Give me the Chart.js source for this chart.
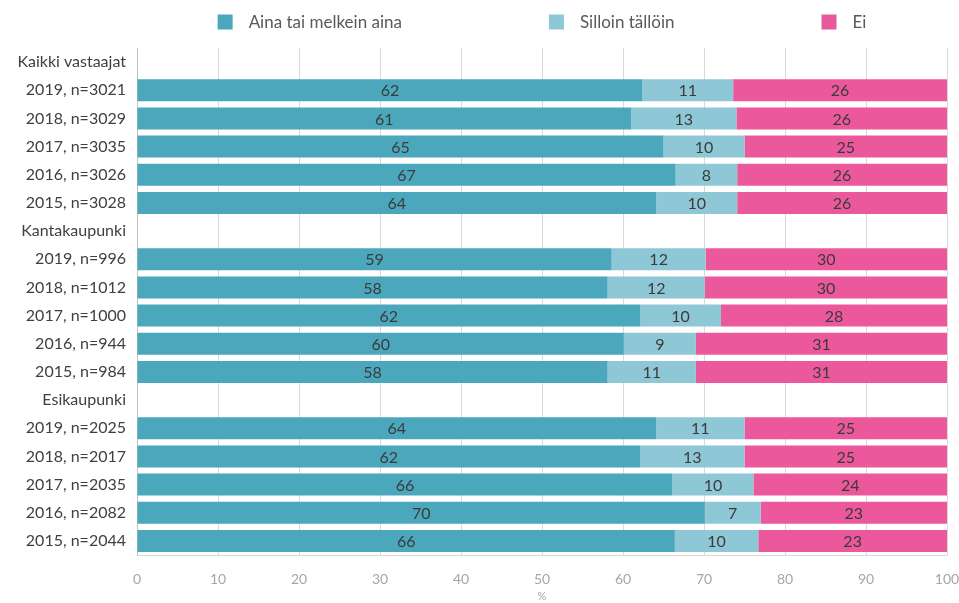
<!DOCTYPE html>
<html>
<head>
    <title>Aina tai melkein aina</title>
    <meta name="viewport" content="width=device-width, initial-scale=1.0">
    <script src="https://cdn.jsdelivr.net/npm/chart.js"></script>
</head>
<style>
    html, body {
        margin: 0;
        padding: 0;
        background: #fff;
    }
    #wrap {
        width: 959px;
        height: 603px;
    }
</style>
<body>
    <div id="wrap">
        <canvas id="answerChart"></canvas>
    </div>
    <script>
        const categories = [
            'Kaikki vastaajat',
            '2019, n=3021', '2018, n=3029', '2017, n=3035', '2016, n=3026', '2015, n=3028',
            'Kantakaupunki',
            '2019, n=996', '2018, n=1012', '2017, n=1000', '2016, n=944', '2015, n=984',
            'Esikaupunki',
            '2019, n=2025', '2018, n=2017', '2017, n=2035', '2016, n=2082', '2015, n=2044'
        ];
        const seriesNames = ['Aina tai melkein aina', 'Silloin tällöin', 'Ei'];
        const ainaValues = [null, 62.4, 61.0, 65.0, 66.5, 64.1, null, 58.6, 58.1, 62.1, 60.1, 58.1, null, 64.1, 62.1, 66.1, 70.1, 66.4];
        const silloinValues = [null, 11.2, 13.0, 10.0, 7.6, 10.0, null, 11.6, 12.0, 10.0, 8.9, 10.9, null, 10.9, 12.9, 10.0, 6.9, 10.3];
        const eiValues = [null, 26.4, 26.0, 25.0, 25.9, 25.9, null, 29.8, 29.9, 27.9, 31.0, 31.0, null, 25.0, 25.0, 23.9, 23.0, 23.3];
        const xTicks = [0, 10, 20, 30, 40, 50, 60, 70, 80, 90, 100];

        const colors = ['#4ba7bc', '#8ec7d5', '#eb599c'];
        const fontFamily = 'Lato, "Open Sans", sans-serif';

        // rounded value in the middle of every segment
        const valueLabels = {
            id: 'valueLabels',
            afterDatasetsDraw(chart) {
                const ctx = chart.ctx;
                ctx.save();
                ctx.font = '16px ' + fontFamily;
                ctx.fillStyle = '#3b3b3b';
                ctx.textAlign = 'center';
                ctx.textBaseline = 'middle';
                chart.data.datasets.forEach((ds, i) => {
                    const meta = chart.getDatasetMeta(i);
                    meta.data.forEach((bar, j) => {
                        const v = ds.data[j];
                        if (v === null || v === undefined) return;
                        ctx.fillText(Math.round(v), (bar.x + bar.base) / 2, bar.y + 1);
                    });
                });
                ctx.restore();
            }
        };

        // legend spread evenly above the plot
        const spreadLegend = {
            id: 'spreadLegend',
            afterDraw(chart) {
                const ctx = chart.ctx;
                const area = chart.chartArea;
                const box = 15, boxGap = 16, itemGap = 147;
                ctx.save();
                ctx.font = '17px ' + fontFamily;
                ctx.textBaseline = 'middle';
                const widths = chart.data.datasets.map(ds => box + boxGap + ctx.measureText(ds.label).width);
                const total = widths.reduce((a, b) => a + b, 0) + itemGap * (widths.length - 1);
                let x = (area.left + area.right) / 2 - total / 2;
                const y = 22;
                chart.data.datasets.forEach((ds, i) => {
                    ctx.fillStyle = ds.backgroundColor;
                    ctx.fillRect(x, y - box / 2, box, box);
                    ctx.fillStyle = '#595959';
                    ctx.fillText(ds.label, x + box + boxGap, y + 1);
                    x += widths[i] + itemGap;
                });
                ctx.restore();
            }
        };

        const ctx = document.getElementById('answerChart').getContext('2d');
        new Chart(ctx, {
            type: 'bar',
            data: {
                labels: categories,
                datasets: [
                    { label: seriesNames[0], data: ainaValues, backgroundColor: colors[0] },
                    { label: seriesNames[1], data: silloinValues, backgroundColor: colors[1] },
                    { label: seriesNames[2], data: eiValues, backgroundColor: colors[2] }
                ]
            },
            options: {
                indexAxis: 'y',
                responsive: true,
                maintainAspectRatio: false,
                animation: false,
                layout: {
                    padding: { top: 48, left: 10, right: 12, bottom: 0 }
                },
                datasets: {
                    bar: {
                        categoryPercentage: 1,
                        barPercentage: 0.78,
                        borderWidth: 0
                    }
                },
                scales: {
                    x: {
                        stacked: true,
                        min: 0,
                        max: 100,
                        afterBuildTicks: scale => {
                            scale.ticks = xTicks.map(v => ({ value: v }));
                        },
                        afterFit: scale => {
                            scale.height = 48;
                            scale.paddingLeft = 0;
                            scale.paddingRight = 0;
                        },
                        grid: {
                            color: '#d9d9d9',
                            drawTicks: false
                        },
                        border: { color: '#d9d9d9' },
                        ticks: {
                            padding: 16,
                            color: '#a6a6a6',
                            font: { family: fontFamily, size: 14 }
                        },
                        title: {
                            display: true,
                            text: '%',
                            color: '#a6a6a6',
                            padding: { top: 0, bottom: 0 },
                            font: { family: fontFamily, size: 11 }
                        }
                    },
                    y: {
                        stacked: true,
                        afterFit: scale => {
                            scale.width = 127;
                            scale.paddingTop = 0;
                            scale.paddingBottom = 0;
                        },
                        grid: { display: false },
                        border: { color: '#bfbfbf' },
                        ticks: {
                            padding: 3,
                            color: '#404040',
                            autoSkip: false,
                            font: { family: fontFamily, size: 16 }
                        }
                    }
                },
                plugins: {
                    legend: { display: false },
                    tooltip: { enabled: false }
                }
            },
            plugins: [valueLabels, spreadLegend]
        });
    </script>
</body>
</html>
